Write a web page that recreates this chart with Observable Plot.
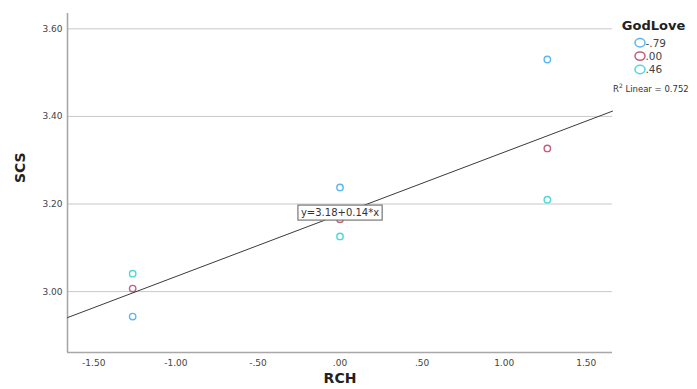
<!DOCTYPE html>
<html>
<head>
<meta charset="utf-8">
<script src="https://cdn.jsdelivr.net/npm/d3@7"></script>
<script src="https://cdn.jsdelivr.net/npm/@observablehq/plot@0.6"></script>
<style>
  html, body { margin: 0; padding: 0; background: #fff; }
  #chart svg { display: block; }
</style>
</head>
<body>
<div id="chart"></div>
<script>
// ---- data ----
const groups = ["-.79", ".00", ".46"];
const groupColors = ["#5cb6f2", "#c0607e", "#4fd8da"];
const rch = [-1.263, 0, 1.263];
const scsNeg79 = [2.943, 3.238, 3.530];
const scs00 = [3.007, 3.165, 3.327];
const scs46 = [3.041, 3.126, 3.210];
const xTicks = [-1.5, -1, -0.5, 0, 0.5, 1, 1.5];
const xTickLabels = ["-1.50", "-1.00", "-.50", ".00", ".50", "1.00", "1.50"];
const yTicks = [3.0, 3.2, 3.4, 3.6];
const yTickLabels = ["3.00", "3.20", "3.40", "3.60"];
const xTitle = "RCH";
const yTitle = "SCS";
const legendTitle = "GodLove";
const equationText = "y=3.18+0.14*x";
const r2Value = "0.752";

const xDomain = [-1.66, 1.66];
const yDomain = [2.861, 3.635];

// table built from arrays
const seriesValues = [scsNeg79, scs00, scs46];
const points = [];
groups.forEach((g, gi) => rch.forEach((x, i) => points.push({group: g, x, y: seriesValues[gi][i]})));

// linear fit over all points
const mx = d3.mean(points, d => d.x), my = d3.mean(points, d => d.y);
const b1 = d3.sum(points, d => (d.x - mx) * (d.y - my)) / d3.sum(points, d => (d.x - mx) ** 2);
const b0 = my - b1 * mx;
const fitLine = xDomain.map(x => ({x, y: b0 + b1 * x}));

const font = "DejaVu Sans";
const chart = Plot.plot({
  width: 697,
  height: 389,
  marginLeft: 67,
  marginRight: 85,
  marginTop: 13,
  marginBottom: 37,
  style: {fontFamily: font, fontSize: "9px", color: "#444", background: "#fff"},
  x: {domain: xDomain},
  y: {domain: yDomain},
  color: {domain: groups, range: groupColors},
  marks: [
    Plot.gridY(yTicks, {stroke: "#c8c8c8", strokeOpacity: 1, strokeWidth: 1}),
    Plot.ruleX([xDomain[0]], {stroke: "#a8a8a8", strokeWidth: 1.6}),
    Plot.ruleY([yDomain[0]], {stroke: "#a8a8a8", strokeWidth: 1.6}),
    Plot.axisY(yTicks, {tickSize: 0, tickPadding: 5, label: null, fill: "#444",
      tickFormat: d => yTickLabels[yTicks.indexOf(d)]}),
    Plot.axisX(xTicks, {tickSize: 0, tickPadding: 7, label: null, fill: "#444",
      tickFormat: d => xTickLabels[xTicks.indexOf(d)]}),
    Plot.dot(points, {x: "x", y: "y", stroke: "group", r: 3.2, strokeWidth: 1.4, fill: "none"}),
    Plot.line(fitLine, {x: "x", y: "y", stroke: "#3a3a3a", strokeWidth: 1}),
    Plot.text([equationText], {x: () => 0, y: () => b0, dy: -1.5, text: d => d, fontSize: 10, fill: "#333"}),
    Plot.text([xTitle], {frameAnchor: "bottom", dy: 30, fontSize: 14, fontWeight: "bold", fill: "#222"}),
    Plot.text([yTitle], {frameAnchor: "left", dx: -47, rotate: -90, fontSize: 14, fontWeight: "bold", fill: "#222"})
  ]
});
document.getElementById("chart").appendChild(chart);

const svg = d3.select(chart);
// box behind equation label
svg.selectAll("text").filter(function () { return this.textContent === equationText; }).each(function () {
  const bb = this.getBBox();
  const g = this.parentNode;
  const ctm = this.getAttribute("transform");
  const rect = document.createElementNS("http://www.w3.org/2000/svg", "rect");
  rect.setAttribute("x", bb.x - 3);
  rect.setAttribute("y", bb.y - 2);
  rect.setAttribute("width", bb.width + 6);
  rect.setAttribute("height", bb.height + 4);
  rect.setAttribute("fill", "#fff");
  rect.setAttribute("stroke", "#777");
  rect.setAttribute("stroke-width", 1.2);
  if (ctm) rect.setAttribute("transform", ctm);
  g.insertBefore(rect, this);
});

// legend
const lg = svg.append("g").attr("font-family", font).attr("text-anchor", "start");
lg.append("text").attr("x", 653.5).attr("y", 29.5).attr("text-anchor", "middle")
  .attr("font-size", 13).attr("font-weight", "bold").attr("fill", "#222").text(legendTitle);
groups.forEach((g, i) => {
  const cy = 42.7 + 13.4 * i;
  lg.append("ellipse").attr("cx", 640).attr("cy", cy).attr("rx", 5).attr("ry", 4.2)
    .attr("fill", "none").attr("stroke", groupColors[i]).attr("stroke-width", 1.5);
  lg.append("text").attr("x", 645.5).attr("y", cy + 3.8).attr("font-size", 10.5)
    .attr("fill", "#444").text(g);
});
const r2 = lg.append("text").attr("x", 613).attr("y", 91.5).attr("font-size", 8.5).attr("fill", "#333");
r2.append("tspan").text("R");
r2.append("tspan").attr("dy", -3.5).attr("font-size", 6).text("2");
r2.append("tspan").attr("dy", 3.5).text(" Linear = " + r2Value);
</script>
</body>
</html>
